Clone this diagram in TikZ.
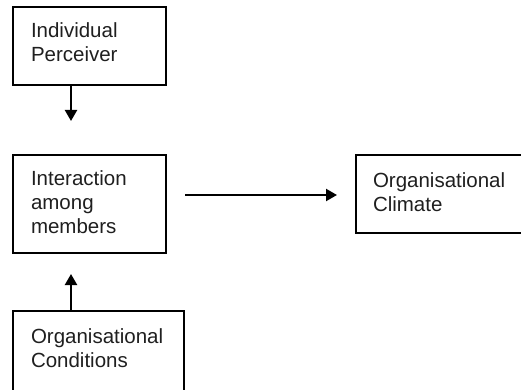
\documentclass[tikz,border=0pt]{standalone}
\usepackage{fontspec}
\setmainfont{Liberation Sans}
\usetikzlibrary{arrows.meta}
\begin{document}
\begin{tikzpicture}[x=1pt,y=-1pt,
  box/.style={draw=black, line width=2pt, align=left, inner ysep=0pt,
    font=\fontsize{20.5}{24}\selectfont, text=black!88},
  lift/.style={execute at end node={\endgraf\vspace{#1}}},
  arr/.style={line width=2.2pt, -{Triangle[length=11pt,width=12pt]}}]
\useasboundingbox (0,0) rectangle (521,390);
\clip (0,0) rectangle (521,390);
\node[box, lift=7pt, minimum width=153pt, minimum height=78pt, text width=117pt, inner xsep=18pt] (b1) at (89.5,46) {Individual\\Perceiver};
\node[box, lift=3pt, minimum width=153pt, minimum height=98pt, text width=117pt, inner xsep=18pt] (b2) at (89.5,204) {Interaction\\among\\members};
\node[box, lift=4pt, minimum width=170pt, minimum height=78pt, text width=136pt, inner xsep=17pt] (b3) at (441,194) {Organisational\\Climate};
\node[box, lift=7pt, minimum width=171pt, minimum height=81pt, text width=135pt, inner xsep=18pt] (b4) at (98.5,351.5) {Organisational\\Conditions};
\coordinate (ax) at (71,0);
\coordinate (t1) at (71,121);
\coordinate (t4) at (71,274);
\draw[arr] (b1.south -| ax) -- (t1);
\draw[arr, shorten <=18pt, shorten >=18pt] (b2.east |- 0,195) -- (b3.west |- 0,195);
\draw[arr] (b4.north -| ax) -- (t4);
\end{tikzpicture}
\end{document}
